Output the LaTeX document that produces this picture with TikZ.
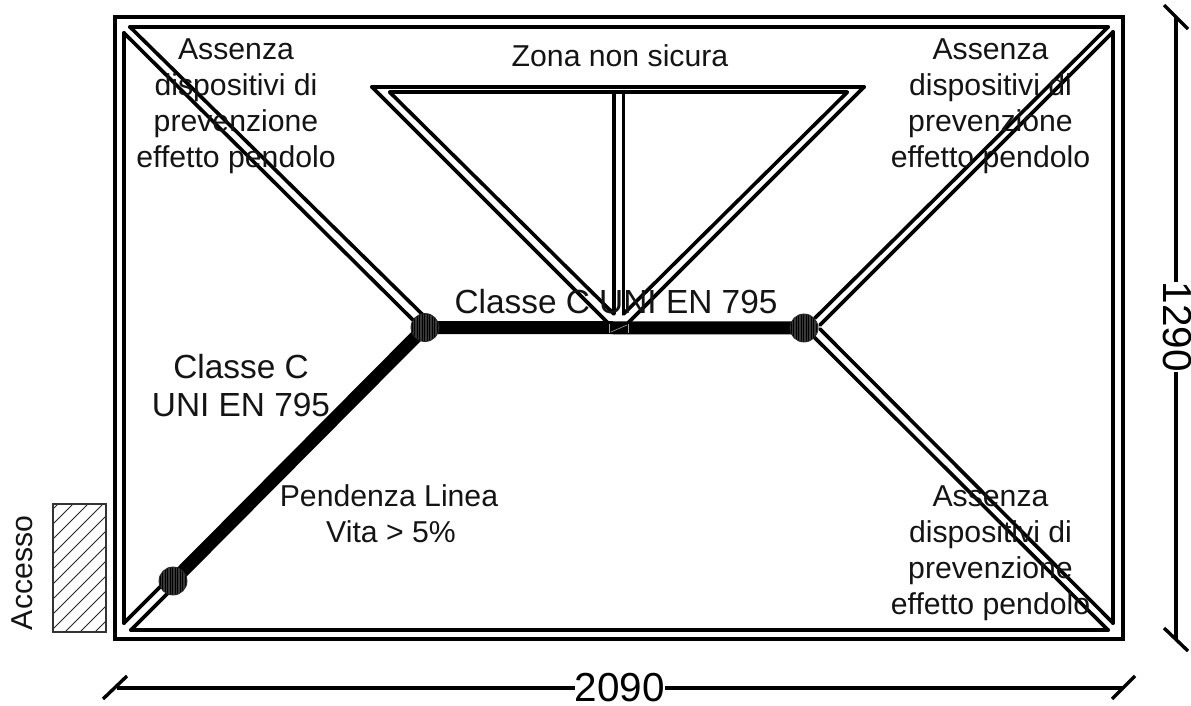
\documentclass[tikz,border=0pt]{standalone}
\usepackage{fontspec}
\setmainfont{Liberation Sans}
\tikzset{
  wall/.style={line width=4pt,line cap=round,line join=miter},
  diag/.style={line width=3.6pt,line cap=round},
  dimline/.style={line width=3.4pt},
  lbl/.style={inner sep=0pt,align=center,font=\fontsize{30.2}{36}\selectfont,text=black!92},
  lblbig/.style={inner sep=0pt,align=center,font=\fontsize{33.4}{38}\selectfont,text=black!92},
  dimtxt/.style={inner sep=0pt,font=\fontsize{40.5}{44}\selectfont,text=black},
  anchorpt/.style={circle,draw=black!85,line width=0.8pt,fill=black!78,minimum size=28pt,inner sep=0pt},
  lifeline/.style={line width=13pt,line cap=butt},
  hatchline/.style={line width=0.9pt,black!85}
}
\begin{document}
\begin{tikzpicture}[x=1pt,y=-1pt]
\useasboundingbox (0,0) rectangle (1191,706);
\fill[white] (0,0) rectangle (1191,706);
% coordinates
\coordinate (oTL) at (115,17); \coordinate (oBR) at (1123,639);
\coordinate (tA) at (130,27); \coordinate (tB) at (1108,27);
\coordinate (lA) at (124,33); \coordinate (lB) at (124,623);
\coordinate (bA) at (131,630); \coordinate (bB) at (1108,630);
\coordinate (rA) at (1113,32); \coordinate (rB) at (1113,623);
\draw[wall] (oTL) rectangle (oBR);
\draw[wall] (tA) -- (tB);
\draw[wall] (lA) -- (lB);
\draw[wall] (bA) -- (bB);
\draw[wall] (rA) -- (rB);
% diagonals
\coordinate (d1) at (424,316); \coordinate (d2) at (413,320);
\coordinate (d3) at (815,318); \coordinate (d4) at (820,325);
\coordinate (d5) at (812,335); \coordinate (d6) at (820,329);
\coordinate (d7) at (165,582); \coordinate (d8) at (172,589);
\draw[diag] (tA) -- (d1);
\draw[diag] (lA) -- (d2);
\draw[diag] (tB) -- (d3);
\draw[diag] (rA) -- (d4);
\draw[diag] (bB) -- (d5);
\draw[diag] (rB) -- (d6);
\draw[diag] (lB) -- (d7);
\draw[diag] (bA) -- (d8);
% triangle
\coordinate (t1) at (372,87); \coordinate (t2) at (864,87);
\coordinate (t3) at (390,92.5); \coordinate (t4) at (847,92.5);
\coordinate (t5) at (608,323); \coordinate (t6) at (628,323);
\coordinate (t7) at (614,314); \coordinate (t8) at (623.5,314);
\coordinate (t9) at (614,92.5); \coordinate (t10) at (623.5,92.5);
\draw[wall] (t1) -- (t2);
\draw[wall] (t3) -- (t4);
\draw[diag] (t1) -- (t5);
\draw[diag] (t2) -- (t6);
\draw[diag] (t3) -- (t7);
\draw[diag] (t4) -- (t8);
\draw[wall,line width=3.6pt,line cap=butt] (t9) -- (t7);
\draw[wall,line width=3.6pt,line cap=butt] (t10) -- (t8);
% life lines
\coordinate (pA) at (173,581); \coordinate (pB) at (425,327.5); \coordinate (pC) at (804,328);
\draw[lifeline] (pA) -- (pB);
\draw[lifeline] (pB) -- (pC);
% small detail in the middle of the line
\draw[white!65!black,line width=0.6pt] (609,324) -- (609,333);
\draw[white!65!black,line width=0.6pt] (628,324) -- (628,333);
\draw[white!65!black,line width=0.6pt] (611,332) -- (627,325);
% anchors
\foreach \nm/\pt in {n1/pA,n2/pB,n3/pC}{
  \node[anchorpt] (\nm) at (\pt) {};
  \begin{scope}
    \clip (\pt) circle[radius=13.5pt];
    \foreach \dx in {-13,-10.5,...,13}{
      \draw[black,line width=0.7pt] ([xshift=\dx pt,yshift=-15pt]\pt) -- ([xshift=\dx pt,yshift=15pt]\pt);
    }
  \end{scope}
}
% access
\coordinate (acA) at (53,504); \coordinate (acB) at (106,632);
\begin{scope}
\clip (acA) rectangle (acB);
\foreach \s in {562,577,...,742}{
  \draw[hatchline] (\s-504,504) -- (\s-632,632);
}
\end{scope}
\draw[line width=1.1pt,black!80] (acA) rectangle (acB);
% dimensions
\coordinate (dxA) at (117,688); \coordinate (dxB) at (1123,688);
\coordinate (dyA) at (1176,17); \coordinate (dyB) at (1176,639);
\node[dimtxt] (w) at (620,688) {2090};
\node[dimtxt,rotate=-90] (h) at (1177,327) {1290};
\draw[dimline] (dxA) -- (w.west);
\draw[dimline] (w.east) -- (dxB);
\draw[dimline] (dyA) -- (dyA |- h.west);
\draw[dimline] (dyA |- h.east) -- (dyB);
\coordinate (tk1a) at (103,699); \coordinate (tk1b) at (127,676);
\coordinate (tk2a) at (1112,699); \coordinate (tk2b) at (1135,676);
\coordinate (tk3a) at (1164,5); \coordinate (tk3b) at (1188,29);
\coordinate (tk4a) at (1164,628); \coordinate (tk4b) at (1188,651);
\draw[dimline] (tk1a) -- (tk1b);
\draw[dimline] (tk2a) -- (tk2b);
\draw[dimline] (tk3a) -- (tk3b);
\draw[dimline] (tk4a) -- (tk4b);
% labels
\node[lbl] (a1) at (236,106) {Assenza\\dispositivi di\\prevenzione\\effetto pendolo};
\node[lbl] (a2) at (990.5,106) {Assenza\\dispositivi di\\prevenzione\\effetto pendolo};
\node[lbl] (a3) at (990.5,553) {Assenza\\dispositivi di\\prevenzione\\effetto pendolo};
\node[lbl] (z) at (620,56) {Zona non sicura};
\node[lblbig] (c1) at (616,302) {Classe C UNI EN 795};
\node[lblbig] (c2) at (241,386) {Classe C\\UNI EN 795};
\node[lbl] (p) at (389,514) {Pendenza Linea\\\hspace*{4pt}Vita > 5\%};
\node[lbl,rotate=90] (ac) at (22,573) {Accesso};
\end{tikzpicture}
\end{document}
